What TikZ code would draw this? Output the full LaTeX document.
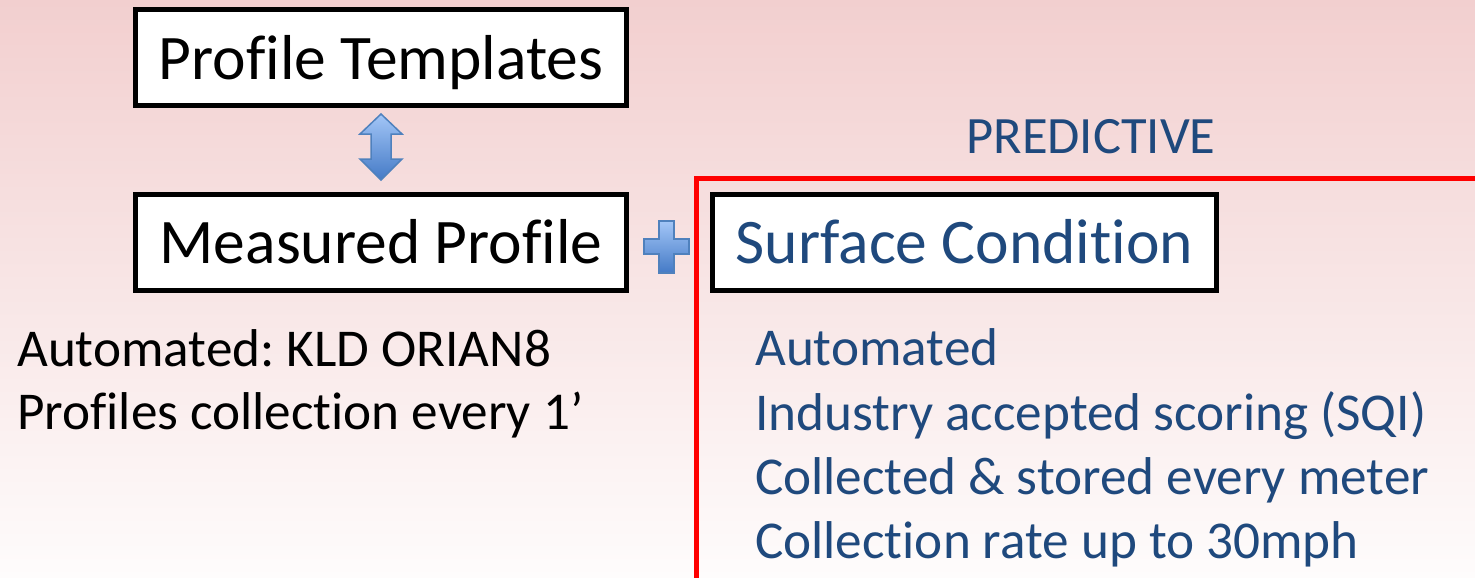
\documentclass[tikz,border=0pt]{standalone}
\usepackage{fontspec}
\setmainfont{Carlito}[Ligatures={NoCommon}]
\frenchspacing
\definecolor{txtblue}{RGB}{31,73,125}
\definecolor{bgtop}{RGB}{242,207,207}
\definecolor{bgmid}{RGB}{249,230,230}
\definecolor{bgbot}{RGB}{254,252,252}
\definecolor{arrtop}{RGB}{163,198,247}
\definecolor{arrbot}{RGB}{68,122,198}
\definecolor{arrline}{RGB}{79,129,189}
\definecolor{frame}{RGB}{255,0,0}
\tikzset{
  box/.style={draw=black, line width=5pt, fill=white, inner sep=0pt,
    minimum height=96pt, text height=43pt, text depth=0pt,
    font=\fontsize{63.5}{76}\selectfont},
  bigtxt/.style={anchor=base west, inner sep=0pt, font=\fontsize{53.2}{64}\selectfont},
  bluetxt/.style={bigtxt, text=txtblue},
  bluesym/.style={top color=arrtop, bottom color=arrbot, draw=arrline, line width=1.5pt, line join=miter}
}
\begin{document}
\begin{tikzpicture}[x=1pt,y=-1pt]
\useasboundingbox (0,0) rectangle (1475,578);
\shade[top color=bgtop, middle color=bgmid, bottom color=bgbot] (0,0) rectangle (1475,578);

% red frame
\coordinate (fbl) at (696.5,600);
\coordinate (ftl) at (696.5,178.7);
\coordinate (ftr) at (1500,178.7);
\draw[frame, line width=4.5pt, line join=miter] (fbl) -- (ftl) -- (ftr);

\node[box, minimum width=491pt] (pt) at (381,57.75) {Profile Templates};
\node[box, minimum width=491pt] (mp) at (381,242.2) {Measured Profile};
\node[box, minimum width=504pt, text=txtblue] (sc) at (964.5,242.2) {Surface Condition};

\node[anchor=base, inner sep=0pt, text=txtblue, font=\fontsize{52.5}{62}\selectfont] (pred) at (1091,153) {PREDICTIVE};

% double arrow
\shade[bluesym] (381,114) -- (402,134) -- (391,134) -- (391,159) -- (402,159) -- (381,180)
  -- (360,159) -- (371,159) -- (371,134) -- (360,134) -- cycle;

% plus sign
\shade[bluesym] (659,221) -- (674,221) -- (674,239) -- (689,239) -- (689,254) -- (674,254)
  -- (674,273) -- (659,273) -- (659,254) -- (644,254) -- (644,239) -- (659,239) -- cycle;

\node[bigtxt] (l1) at (17,366) {Automated: KLD ORIAN8};
\node[bigtxt] (l2) at (17,429) {Profiles collection every 1’};

\node[bluetxt] (r1) at (755,365) {Automated};
\node[bluetxt] (r2) at (755,430) {Industry accepted scoring (SQI)};
\node[bluetxt] (r3) at (755,494) {Collected \& stored every meter};
\node[bluetxt] (r4) at (755,558) {Collection rate up to 30mph};
\end{tikzpicture}
\end{document}
